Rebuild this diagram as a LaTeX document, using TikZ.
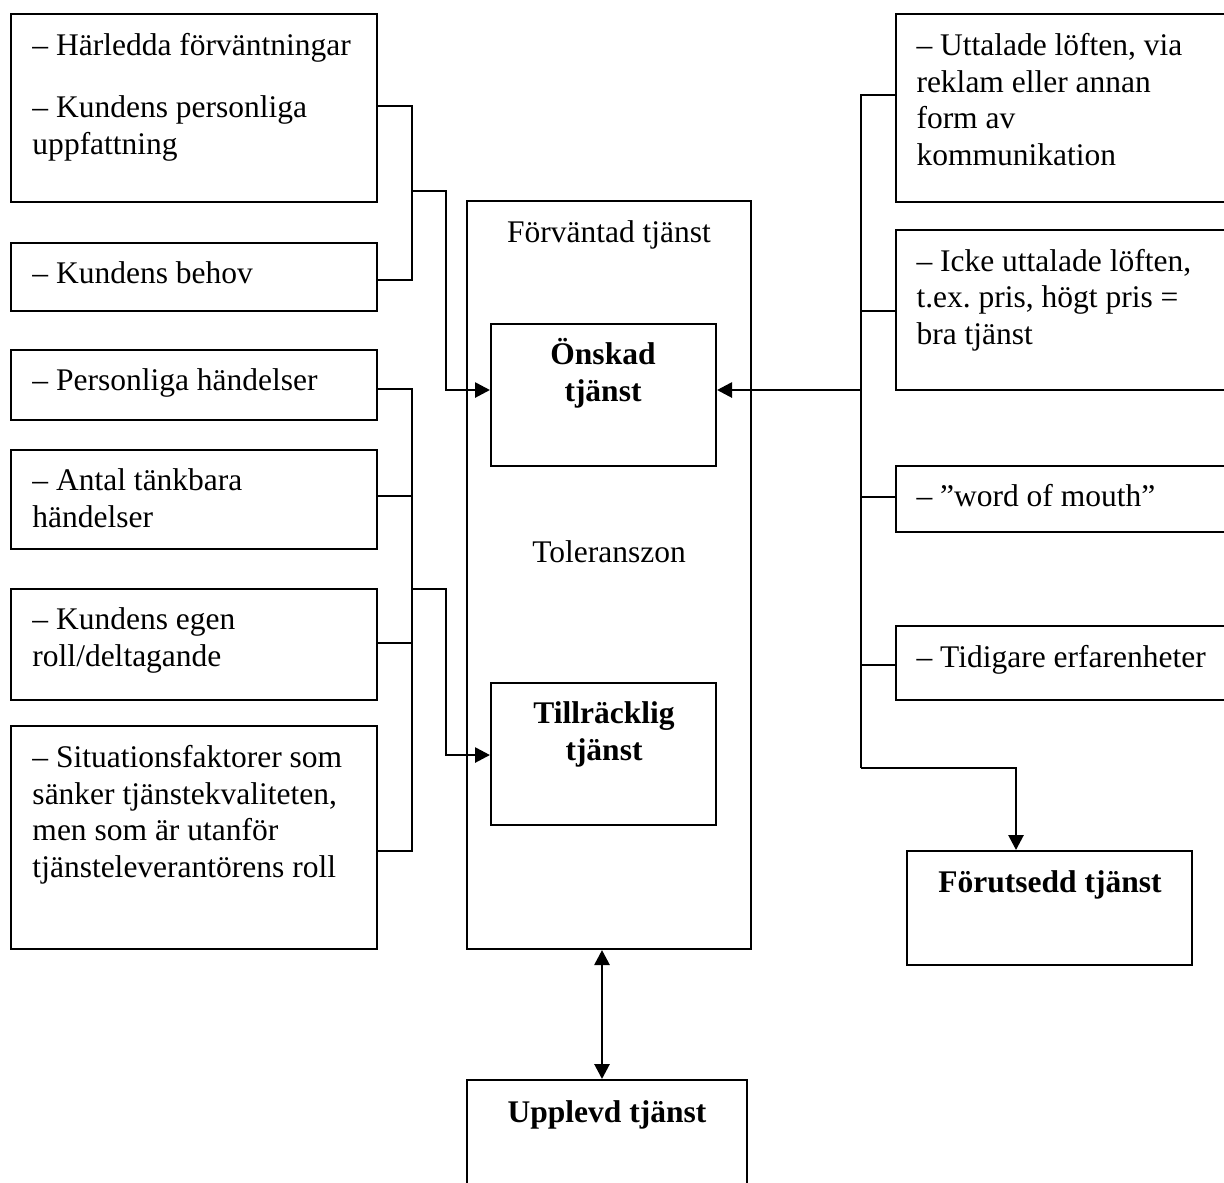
\documentclass[tikz,border=0pt]{standalone}
\usepackage{fontspec}
\setmainfont{Liberation Serif}
\usetikzlibrary{arrows.meta,fit}

\tikzset{
  box/.style={draw, line width=0.8pt, inner sep=0pt},
  txt/.style={anchor=base west, align=left, inner sep=0pt},
  ctxt/.style={anchor=base, align=center, inner sep=0pt},
  bold/.style={ctxt, font=\fontsize{12.6}{14.6}\selectfont\bfseries},
  link/.style={line width=0.8pt},
  arr/.style={line width=1.1pt, -{Triangle[length=6pt,width=6pt]}},
  dblarr/.style={line width=1.1pt, {Triangle[length=6pt,width=6pt]}-{Triangle[length=6pt,width=6pt]}},
}

\begin{document}
\frenchspacing
\begin{tikzpicture}[x=0.4pt, y=-0.4pt, every node/.style={font=\fontsize{12.6}{14.6}\selectfont}]
        \useasboundingbox (0,0) rectangle (1224,1182);
        \clip (0,0) rectangle (1224,1182);

        % Left boxes (text nodes sit on the baseline of their last line)
        \node[box, fit={(11,14) (377,202)}] (l1) {};
        \node[box, fit={(11,243) (377,311)}] (l2) {};
        \node[box, fit={(11,350) (377,420)}] (l3) {};
        \node[box, fit={(11,450) (377,549)}] (l4) {};
        \node[box, fit={(11,589) (377,700)}] (l5) {};
        \node[box, fit={(11,726) (377,949)}] (l6) {};

        \node[txt] (tl1a) at (32,55) {– Härledda förväntningar};
        \node[txt] (tl1b) at (32,154) {– Kundens personliga\\uppfattning};
        \node[txt] (tl2) at (32,283) {– Kundens behov};
        \node[txt] (tl3) at (32,390) {– Personliga händelser};
        \node[txt] (tl4) at (32,527) {– Antal tänkbara\\händelser};
        \node[txt] (tl5) at (32,666) {– Kundens egen\\roll/deltagande};
        \node[txt] (tl6) at (32,877) {– Situationsfaktorer som\\sänker tjänstekvaliteten,\\men som är utanför\\tjänsteleverantörens roll};

        % Middle boxes
        \node[box, fit={(467,201) (751,949)}] (forv) {};
        \node[box, fit={(491,324) (716,466)}] (onskad) {};
        \node[box, fit={(491,683) (716,825)}] (tillr) {};
        \node[box, fit={(467,1080) (747,1260)}] (upplevd) {};

        \node[ctxt] (tforv) at (609,242) {Förväntad tjänst};
        \node[ctxt] (ttol) at (609,562) {Toleranszon};
        \node[bold] (tonskad) at (603,401) {Önskad\\tjänst};
        \node[bold] (ttillr) at (604,760) {Tillräcklig\\tjänst};
        \node[bold] (tupplevd) at (607,1122) {Upplevd tjänst};

        % Right boxes
        \node[box, fit={(896,14) (1250,202)}] (r1) {};
        \node[box, fit={(896,230) (1250,390)}] (r2) {};
        \node[box, fit={(896,466) (1250,532)}] (r3) {};
        \node[box, fit={(896,626) (1250,700)}] (r4) {};
        \node[box, fit={(907,851) (1192,965)}] (forut) {};

        \node[txt] (tr1) at (916,165) {– Uttalade löften, via\\reklam eller annan\\form av\\kommunikation};
        \node[txt] (tr2) at (916,344) {– Icke uttalade löften,\\t.ex.\ pris, högt pris =\\bra tjänst};
        \node[txt] (tr3) at (916,506) {– ”word of mouth”};
        \node[txt] (tr4) at (916,667) {– Tidigare erfarenheter};
        \node[bold] (tforut) at (1050,892) {Förutsedd tjänst};

        % Left connectors
        \coordinate (ja) at (412,191);
        \coordinate (jb) at (412,589);
        \draw[link] (l1.east |- 0,106) -| (ja);
        \draw[link] (l2.east |- 0,280) -| (ja);
        \draw[arr] (ja) -| (446,390) -- (onskad.west |- 0,390);
        \draw[link] (l3.east |- 0,389) -| (jb);
        \draw[link] (l4.east |- 0,496) -| (jb);
        \draw[link] (l5.east |- 0,643) -| (jb);
        \draw[link] (l6.east |- 0,851) -| (jb);
        \draw[arr] (jb) -| (446,755) -- (tillr.west |- 0,755);

        % Right connectors
        \coordinate (jr) at (861,390);
        \coordinate (jf) at (861,768);
        \draw[link] (r1.west |- 0,95) -| (jr);
        \draw[link] (r2.west |- 0,311) -| (jr);
        \draw[link] (r3.west |- 0,497) -| (jf);
        \draw[link] (r4.west |- 0,665) -| (jf);
        \draw[link] (jr) -- (jf);
        \draw[arr] (jr) -- (onskad.east |- jr);
        \draw[arr] (jf) -| (forut.north -| 1016,0);

        % Bottom
        \draw[dblarr] (forv.south -| 602,0) -- (upplevd.north -| 602,0);
\end{tikzpicture}
\end{document}
